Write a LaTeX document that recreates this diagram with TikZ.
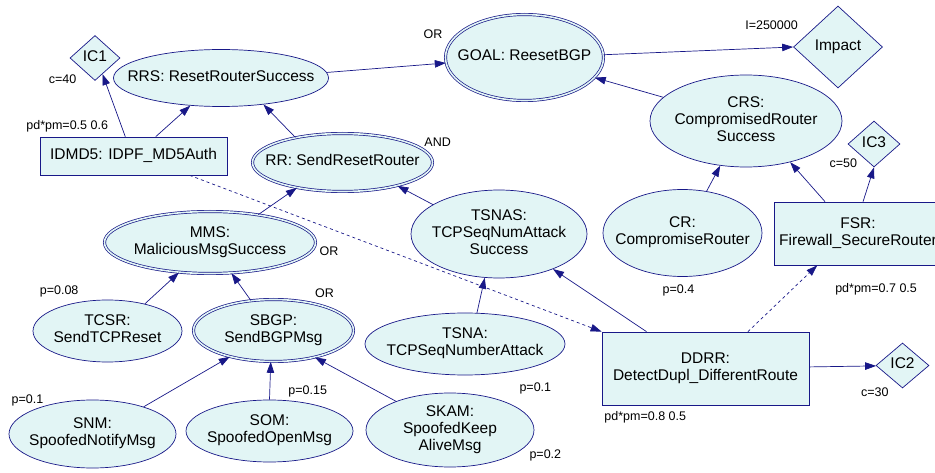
\documentclass[tikz,border=0pt]{standalone}
\usepackage{fontspec}
\setmainfont{Liberation Sans}
\usetikzlibrary{shapes.geometric,arrows.meta}
\definecolor{lineblue}{RGB}{24,24,136}
\definecolor{nodefill}{RGB}{226,245,245}
\newcommand{\nodetxt}[1]{\makebox[0pt]{\begin{tabular}{@{}c@{}}#1\end{tabular}}}

\begin{document}
\begin{tikzpicture}[x=1pt,y=-1pt,
    base/.style={draw=lineblue,fill=nodefill,line width=0.7pt,inner sep=0pt,
        font=\fontsize{15.5}{17}\selectfont},
    evt/.style={base,ellipse},
    gate/.style={evt,double=nodefill,double distance=1.6pt},
    ctrl/.style={base,rectangle},
    imp/.style={base,diamond},
    lbl/.style={font=\fontsize{12.5}{14}\selectfont,inner sep=0pt,anchor=center},
    conn/.style={-{Triangle[length=11pt,width=7.5pt]},draw=lineblue,line width=0.7pt},
    dconn/.style={conn,dash pattern=on 3pt off 3pt}]
        \fill[white] (0,0) rectangle (935,473);
        \useasboundingbox (0,0) rectangle (935,473);
        % top row
        \node[imp,minimum width=50pt,minimum height=45pt,label={[lbl,label distance=21pt]213:{c=40}}] (ic1) at (95,58) {\nodetxt{IC1}};
        \node[evt,minimum width=215pt,minimum height=57pt] (rrs) at (221,78) {\nodetxt{RRS: ResetRouterSuccess}};
        \node[gate,minimum width=158pt,minimum height=86pt,label={[lbl,label distance=20pt]166:{OR}}] (goal) at (524.5,57.5) {\nodetxt{GOAL: ReesetBGP}};
        \node[imp,minimum width=89pt,minimum height=82pt,label={[lbl,label distance=35pt]162:{I=250000}}] (impact) at (838,47) {\nodetxt{Impact}};
        \node[evt,minimum width=192pt,minimum height=92pt] (crs) at (746,121) {\nodetxt{CRS:\\CompromisedRouter\\Success}};
        \node[imp,minimum width=52pt,minimum height=46pt,label={[lbl,label distance=18pt]212:{c=50}}] (ic3) at (874,144) {\nodetxt{IC3}};
        % middle
        \node[ctrl,minimum width=187pt,minimum height=38pt,label={[lbl,label distance=25pt]156:{pd*pm=0.5 0.6}}] (idmd) at (133.5,156) {\nodetxt{IDMD5: IDPF\_MD5Auth}};
        \node[gate,minimum width=180pt,minimum height=58pt,label={[lbl,label distance=20pt]12:{AND}}] (rr) at (342.5,162.5) {\nodetxt{RR: SendResetRouter}};
        \node[evt,minimum width=176pt,minimum height=88pt] (tsnas) at (499,234) {\nodetxt{TSNAS:\\TCPSeqNumAttack\\Success}};
        \node[evt,minimum width=159pt,minimum height=87pt,label={[lbl,label distance=14pt]266:{p=0.4}}] (cr) at (682.5,233) {\nodetxt{CR:\\CompromiseRouter}};
        \node[ctrl,minimum width=168pt,minimum height=63pt,label={[lbl,label distance=25pt]288:{pd*pm=0.7 0.5}}] (fsr) at (858,233.5) {\nodetxt{FSR:\\Firewall\_SecureRouter}};
        \node[gate,minimum width=211pt,minimum height=62pt,label={[lbl,label distance=16pt]-4:{OR}}] (mms) at (210,242.5) {\nodetxt{MMS:\\MaliciousMsgSuccess}};
        \node[evt,minimum width=149pt,minimum height=62pt,label={[lbl,label distance=18pt]141:{p=0.08}}] (tcsr) at (107.5,331) {\nodetxt{TCSR:\\SendTCPReset}};
        \node[gate,minimum width=160pt,minimum height=62pt,label={[lbl,label distance=16pt]36:{OR}}] (sbgp) at (273.5,330.5) {\nodetxt{SBGP:\\SendBGPMsg}};
        \node[evt,minimum width=200pt,minimum height=62pt,label={[lbl,label distance=30pt]-32:{p=0.1}}] (tsna) at (465,344) {\nodetxt{TSNA:\\TCPSeqNumberAttack}};
        \node[ctrl,minimum width=207pt,minimum height=73pt,label={[lbl,label distance=19pt]219:{pd*pm=0.8 0.5}}] (ddrr) at (705.5,368.5) {\nodetxt{DDRR:\\DetectDupl\_DifferentRoute}};
        \node[imp,minimum width=53pt,minimum height=45pt,label={[lbl,label distance=21pt]224:{c=30}}] (ic2) at (902.5,365.5) {\nodetxt{IC2}};
        % leaves
        \node[evt,minimum width=167pt,minimum height=68pt,label={[lbl,label distance=14pt]153:{p=0.1}}] (snm) at (92.5,434) {\nodetxt{SNM:\\SpoofedNotifyMsg}};
        \node[evt,minimum width=167pt,minimum height=62pt,label={[lbl,label distance=14pt]46:{p=0.15}}] (som) at (269.5,431) {\nodetxt{SOM:\\SpoofedOpenMsg}};
        \node[evt,minimum width=168pt,minimum height=74pt,label={[lbl,label distance=24pt]-15:{p=0.2}}] (skam) at (450,430) {\nodetxt{SKAM:\\SpoofedKeep\\AliveMsg}};
        % connectors
        \draw[conn] (idmd.113)--(ic1.-65);
        \draw[conn] (idmd.41)--(rrs.222);
        \draw[conn] (rr.152)--(rrs.-32);
        \draw[conn] (rrs.3)--(goal.184);
        \draw[conn] (crs.164)--(goal.-16);
        \draw[conn] (goal.2)--(impact.west);
        \draw[conn] (mms.30)--(rr.209);
        \draw[conn] (tsnas.156)--(rr.-23);
        \draw[conn] (tcsr.36)--(mms.224);
        \draw[conn] (sbgp.127)--(mms.-55);
        \draw[conn] (snm.28)--(sbgp.211);
        \draw[conn] (som.north)--(sbgp.265);
        \draw[conn] (skam.152)--(sbgp.-33);
        \draw[conn] (tsna.69)--(tsnas.252);
        \draw[conn] (ddrr.148)--(tsnas.-33);
        \draw[conn] (cr.60)--(crs.240);
        \draw[conn] (fsr.136)--(crs.-43);
        \draw[conn] (fsr.81)--(ic3.south);
        \draw[conn] (ddrr)--(ic2);
        \draw[dconn] (idmd.-19)--(ddrr.north west);
        \draw[dconn] (ddrr.41)--(fsr.218);
    \end{tikzpicture}
\end{document}
